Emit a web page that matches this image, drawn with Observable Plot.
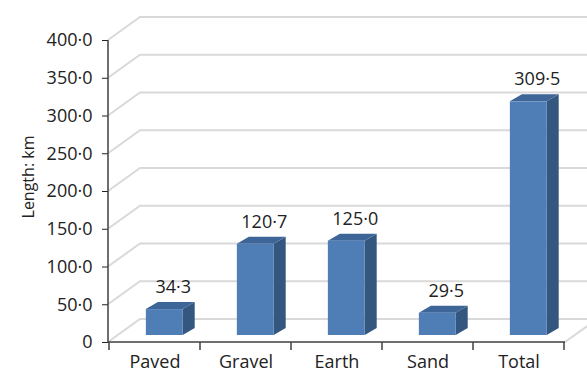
<!DOCTYPE html>
<html><head><meta charset="utf-8">
<script src="https://cdn.jsdelivr.net/npm/d3@7"></script>
<script src="https://cdn.jsdelivr.net/npm/@observablehq/plot@0.6"></script>
<style>body{margin:0;background:#fff} svg{display:block}</style>
</head><body><div id="chart"></div>
<script>
const categories = ["Paved", "Gravel", "Earth", "Sand", "Total"];
const lengths = [34.3, 120.7, 125.0, 29.5, 309.5];
const valueLabels = ["34·3", "120·7", "125·0", "29·5", "309·5"];
const yTicks = [0, 50, 100, 150, 200, 250, 300, 350, 400];
const yTitle = "Length: km";

const data = categories.map((c, i) => ({category: c, length: lengths[i], label: valueLabels[i]}));
const fmt = d => d === 0 ? "0" : d.toFixed(1).replace(".", "·");

const WALL_DX = 32, WALL_DY = 23;
const BAR_DX = 12, BAR_DY = 7, BAR_SHIFT = 7;
const FONT = "'Open Sans', sans-serif";

function chart3d(index, scales, values, dims) {
  const {x, y} = scales;
  const bw = x.bandwidth();
  const left = dims.marginLeft, right = dims.width - dims.marginRight;
  const g = d3.create("svg:g");
  // back wall / side wall gridlines
  for (const t of yTicks) {
    const yy = y(t);
    g.append("path")
      .attr("d", `M${left},${yy}L${left + WALL_DX},${yy - WALL_DY}L${dims.width},${yy - WALL_DY}`)
      .attr("fill", "none").attr("stroke", "#d9d9d9").attr("stroke-width", 2);
  }
  g.append("path")
    .attr("d", `M${right},${y(0)}L${right + WALL_DX},${y(0) - WALL_DY}`)
    .attr("fill", "none").attr("stroke", "#d9d9d9").attr("stroke-width", 2);
  // bars
  for (const d of data) {
    const x0 = x(d.category) + 0.405 * bw, x1 = x(d.category) + 0.81 * bw;
    const yb = y(0) - BAR_SHIFT, yt = y(d.length) - BAR_SHIFT;
    g.append("path")
      .attr("d", `M${x1},${yt}L${x1 + BAR_DX},${yt - BAR_DY}L${x1 + BAR_DX},${yb - BAR_DY}L${x1},${yb}Z`)
      .attr("fill", "#34577f");
    g.append("path")
      .attr("d", `M${x0},${yt}L${x0 + BAR_DX},${yt - BAR_DY}L${x1 + BAR_DX},${yt - BAR_DY}L${x1},${yt}Z`)
      .attr("fill", "#3d6597");
    g.append("rect")
      .attr("x", x0).attr("y", yt).attr("width", x1 - x0).attr("height", yb - yt)
      .attr("fill", "#4f7db6");
    g.append("text")
      .attr("x", (x0 + x1) / 2 + 9).attr("y", yt - 16)
      .attr("text-anchor", "middle").attr("fill", "#222")
      .style("font-size", "18px").style("font-family", FONT)
      .text(d.label);
  }
  // axis lines
  g.append("path")
    .attr("d", `M${left},${y(400)}L${left},${y(0)}L${right},${y(0)}`)
    .attr("fill", "none").attr("stroke", "#404040").attr("stroke-width", 1.5);
  for (let i = 0; i <= categories.length; i++) {
    const xx = i < categories.length ? x(categories[i]) : x(categories[i - 1]) + bw;
    g.append("line").attr("x1", xx).attr("x2", xx).attr("y1", y(0)).attr("y2", y(0) + 8)
      .attr("stroke", "#404040").attr("stroke-width", 1.5);
  }
  g.append("text")
    .attr("transform", `translate(${21},${(y(0) + y(400)) / 2 - 14}) rotate(-90)`)
    .attr("text-anchor", "middle").attr("dy", "0.8em").attr("fill", "#222")
    .style("font-size", "16px").style("font-family", FONT)
    .text(yTitle);
  return g.node();
}

const plot = Plot.plot({
  width: 587,
  height: 372,
  marginLeft: 108,
  marginRight: 22,
  marginTop: 40,
  marginBottom: 30,
  style: {fontFamily: FONT, fontSize: "18px", color: "#222", background: "#fff"},
  x: {type: "band", domain: categories, padding: 0, tickSize: 0, tickPadding: 13, label: null},
  y: {domain: [0, 400], ticks: yTicks, tickFormat: fmt, tickSize: 6, tickPadding: 10, label: null},
  marks: [chart3d]
});
document.getElementById("chart").appendChild(plot);
</script>
</body></html>
